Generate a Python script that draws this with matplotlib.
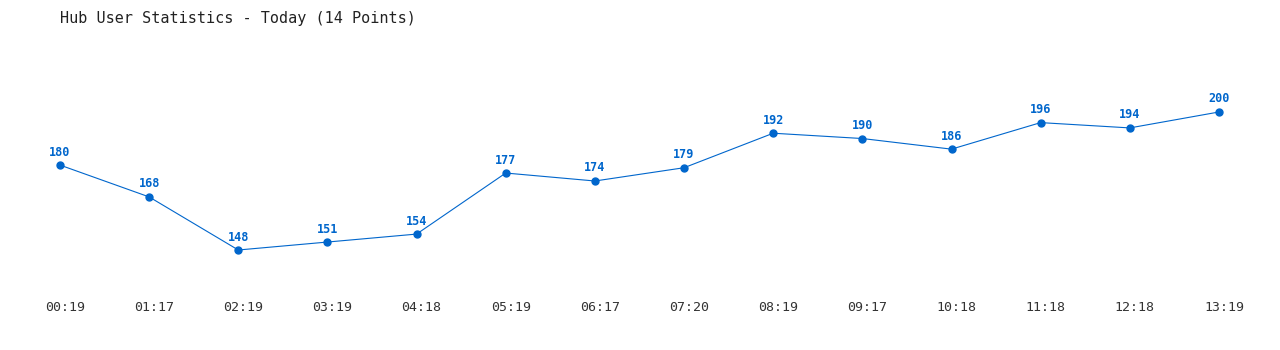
import matplotlib
matplotlib.use("Agg")
import matplotlib.pyplot as plt
import matplotlib.transforms as mtransforms

times = ["00:19", "01:17", "02:19", "03:19", "04:18", "05:19", "06:17",
         "07:20", "08:19", "09:17", "10:18", "11:18", "12:18", "13:19"]
users = [180, 168, 148, 151, 154, 177, 174, 179, 192, 190, 186, 196, 194, 200]
title = "Hub User Statistics - Today (14 Points)"
color = "#0066cc"

fig = plt.figure(figsize=(12.8, 3.5), dpi=100)
ax = fig.add_axes([0, 60 / 350, 1, 290 / 350])

x = list(range(len(users)))
ax.plot(x, users, color=color, linewidth=0.8, marker="o", markersize=5,
        markerfacecolor=color, markeredgecolor=color)
for xi, v in zip(x, users):
    ax.annotate(str(v), (xi, v), xytext=(0, 13), textcoords="offset pixels",
                ha="center", va="center", fontsize=8.5, fontweight="bold",
                family="DejaVu Sans Mono", color=color)

step = 89.15
ax.set_xlim(-60 / step, (1280 - 60) / step)
scale = 2.654
ax.set_ylim(148 - 40 / scale, 148 + 250 / scale)
ax.set_xticks(x)
ax.set_xticklabels(times, family="DejaVu Sans Mono", fontsize=9.5, color="#333333")
ax.tick_params(axis="x", length=0, pad=8)
offset = mtransforms.ScaledTranslation(5 / 100, 0, fig.dpi_scale_trans)
for lbl in ax.get_xticklabels():
    lbl.set_transform(lbl.get_transform() + offset)
ax.set_yticks([])
for s in ax.spines.values():
    s.set_visible(False)

fig.text(60 / 1280, 1 - 18 / 350, title, ha="left", va="center",
         family="DejaVu Sans Mono", fontsize=10.9, color="#222222")

fig.savefig("out.png", dpi=100, facecolor="white")
